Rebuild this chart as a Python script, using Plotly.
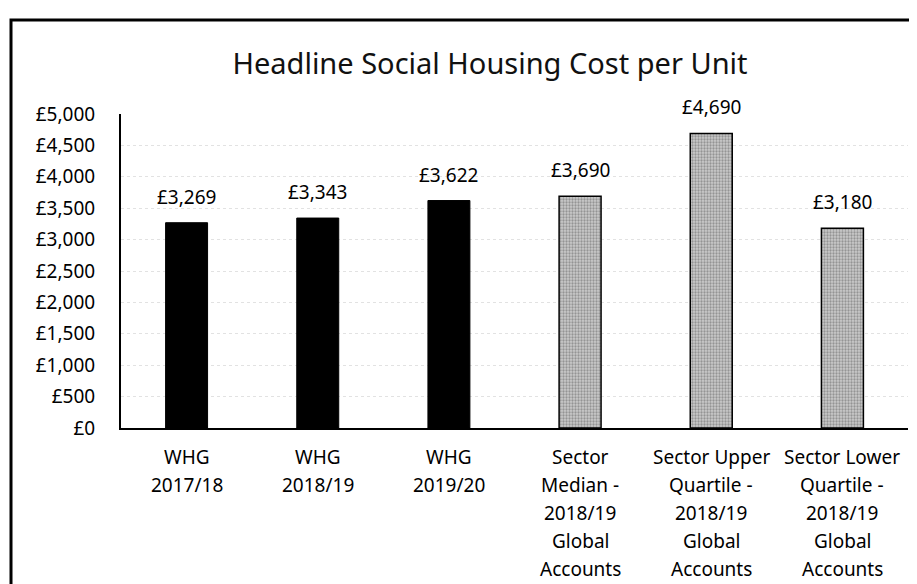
import plotly.graph_objects as go

categories = ["WHG\n2017/18", "WHG\n2018/19", "WHG\n2019/20",
              "Sector\nMedian -\n2018/19\nGlobal\nAccounts",
              "Sector Upper\nQuartile -\n2018/19\nGlobal\nAccounts",
              "Sector Lower\nQuartile -\n2018/19\nGlobal\nAccounts"]
whg_values = [3269, 3343, 3622]
sector_values = [3690, 4690, 3180]
y_ticks = [0, 500, 1000, 1500, 2000, 2500, 3000, 3500, 4000, 4500, 5000]
y_tick_labels = ["£0", "£500", "£1,000", "£1,500", "£2,000", "£2,500",
                 "£3,000", "£3,500", "£4,000", "£4,500", "£5,000"]

FONT = "Noto Sans"
W, H = 917, 584
L, R, T, B = 113, 17, 106, 164

fig = go.Figure()
fig.add_trace(go.Bar(
    x=categories[:3], y=whg_values, width=0.32,
    marker=dict(color="black", line=dict(color="black", width=1)),
    showlegend=False, hoverinfo="x+y",
))
fig.add_trace(go.Bar(
    x=categories[3:], y=sector_values, width=0.32,
    marker=dict(color="#c0c0c0",
                pattern=dict(shape=".", fgcolor="#5e5e5e", bgcolor="#cacaca",
                             size=3, solidity=0.45),
                line=dict(color="black", width=1.5)),
    showlegend=False, hoverinfo="x+y",
))

annotations = []
# value labels above bars
for cat, val in zip(categories, whg_values + sector_values):
    annotations.append(dict(
        x=cat, xref="x", y=val, yref="y", yanchor="bottom", yshift=11,
        text=f"£{val:,}", showarrow=False,
        font=dict(family=FONT, size=19, color="black")))
# multi-line category labels
for cat in categories:
    for i, line in enumerate(cat.split("\n")):
        annotations.append(dict(
            x=cat, xref="x", y=0, yref="paper", yanchor="middle",
            yshift=-29 - 28 * i, text=line, showarrow=False,
            font=dict(family=FONT, size=19, color="black")))

pw = W - L - R
ph = H - T - B
frame = dict(type="rect", xref="paper", yref="paper",
             x0=(3 - L) / pw, x1=(990 - L) / pw,
             y0=-(650 - (H - B)) / ph, y1=1 + (T - 12) / ph,
             line=dict(color="black", width=3), fillcolor="rgba(0,0,0,0)", layer="below")

fig.update_layout(
    width=W, height=H,
    margin=dict(l=L, r=R, t=T, b=B),
    paper_bgcolor="white", plot_bgcolor="white",
    font=dict(family=FONT, color="black"),
    title=dict(text="Headline Social Housing Cost per Unit",
               x=482 / W, xanchor="center", y=1 - 56 / H, yanchor="middle",
               yref="container",
               font=dict(family=FONT, size=29, color="#111111")),
    annotations=annotations,
    shapes=[frame],
    bargap=0.68,
)
fig.update_xaxes(
    type="category", categoryorder="array", categoryarray=categories,
    range=[-0.5, 5.5], showticklabels=False, showgrid=False,
    showline=True, linecolor="black", linewidth=2, ticks="", zeroline=False,
)
fig.update_yaxes(
    range=[0, 5000], tickmode="array", tickvals=y_ticks, ticktext=y_tick_labels,
    showline=True, linecolor="black", linewidth=2, ticks="",
    showgrid=True, gridcolor="#e2e2e2", griddash="dot", gridwidth=1,
    zeroline=False, ticklabelstandoff=20,
    tickfont=dict(family=FONT, size=19, color="black"),
)

fig.write_html("out.html")
